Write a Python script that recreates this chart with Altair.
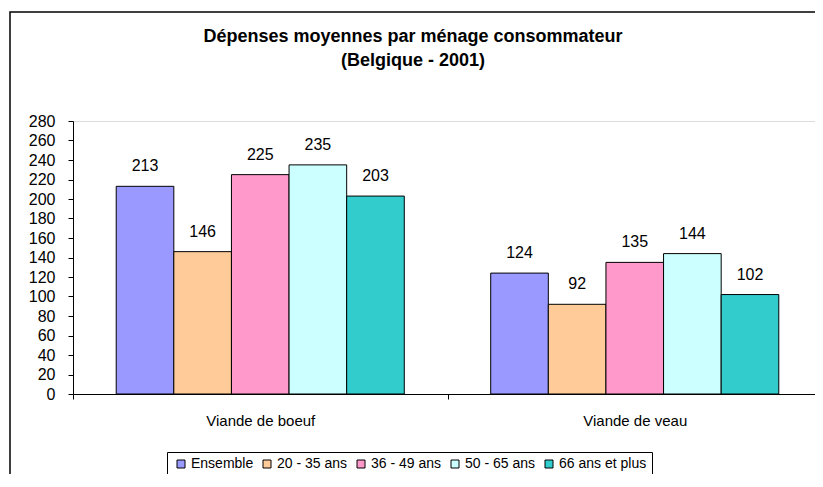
import altair as alt
import pandas as pd

categories = ["Viande de boeuf", "Viande de veau"]
groups = ["Ensemble", "20 - 35 ans", "36 - 49 ans", "50 - 65 ans", "66 ans et plus"]
boeuf = [213, 146, 225, 235, 203]
veau = [124, 92, 135, 144, 102]
colors = ["#9999FF", "#FFCC99", "#FF99CC", "#CCFFFF", "#33CCCC"]
y_ticks = list(range(0, 281, 20))

rows = []
for cat, vals in zip(categories, [boeuf, veau]):
    for g, v in zip(groups, vals):
        rows.append({"cat": cat, "grp": g, "val": v})
df = pd.DataFrame(rows)

FONT = "Liberation Sans"

x_enc = alt.X("cat:N", sort=categories, title=None,
              scale=alt.Scale(paddingInner=0, paddingOuter=0, range=[0, 749]),
              axis=alt.Axis(labelAngle=0, tickBand="extent", domainColor="black",
                            tickColor="black", tickSize=5, labelFontSize=15,
                            labelColor="black", labelPadding=14, grid=False,
                            labelFont=FONT))
xo_enc = alt.XOffset("grp:N", sort=groups,
                     scale=alt.Scale(paddingInner=0, paddingOuter=0.75))
y_enc = alt.Y("val:Q", title=None,
              scale=alt.Scale(domain=[0, 280], nice=False),
              axis=alt.Axis(values=y_ticks, grid=False, domainColor="black",
                            tickColor="black", tickSize=5, labelFontSize=16,
                            labelColor="black", labelPadding=13, labelFont=FONT,
                            labelOverlap=False))

bars = alt.Chart(df).mark_bar(stroke="black", strokeWidth=1).encode(
    x=x_enc, xOffset=xo_enc, y=y_enc,
    color=alt.Color("grp:N", sort=groups,
                    scale=alt.Scale(domain=groups, range=colors),
                    legend=alt.Legend(title=None, orient="none", legendX=94, legendY=331,
                                      direction="horizontal", columns=5,
                                      symbolType="square", symbolSize=64,
                                      symbolStrokeColor="black", symbolStrokeWidth=1,
                                      labelFontSize=14, labelFont=FONT, labelColor="black",
                                      strokeColor="black", padding=5, columnPadding=4,
                                      symbolOffset=2, labelOffset=3)),
)

labels = alt.Chart(df).mark_text(baseline="alphabetic", dy=-15, fontSize=16,
                                 font=FONT, color="black").encode(
    x=x_enc, xOffset=xo_enc, y=y_enc, text="val:Q")

frame_df = pd.DataFrame({"a": [0]})
frame = alt.Chart(frame_df).mark_rect(fillOpacity=0, stroke="black", strokeWidth=1.5).encode(
    x=alt.value(-63), x2=alt.value(800), y=alt.value(-109), y2=alt.value(500))

chart = alt.layer(frame, bars, labels).properties(
    width=742, height=273,
    autosize="none",
    padding={"left": 65, "top": 113, "right": 0, "bottom": 80},
    title=alt.TitleParams(
        text=["Dépenses moyennes par ménage consommateur", "(Belgique - 2001)"],
        fontSize=18, font=FONT, fontWeight="bold", color="black",
        anchor="middle", dx=-31, offset=-59, lineHeight=24),
).configure_view(stroke=None, strokeWidth=0).configure(background="white")

chart.save("out.html", embed_options={"renderer": "svg", "actions": False})
